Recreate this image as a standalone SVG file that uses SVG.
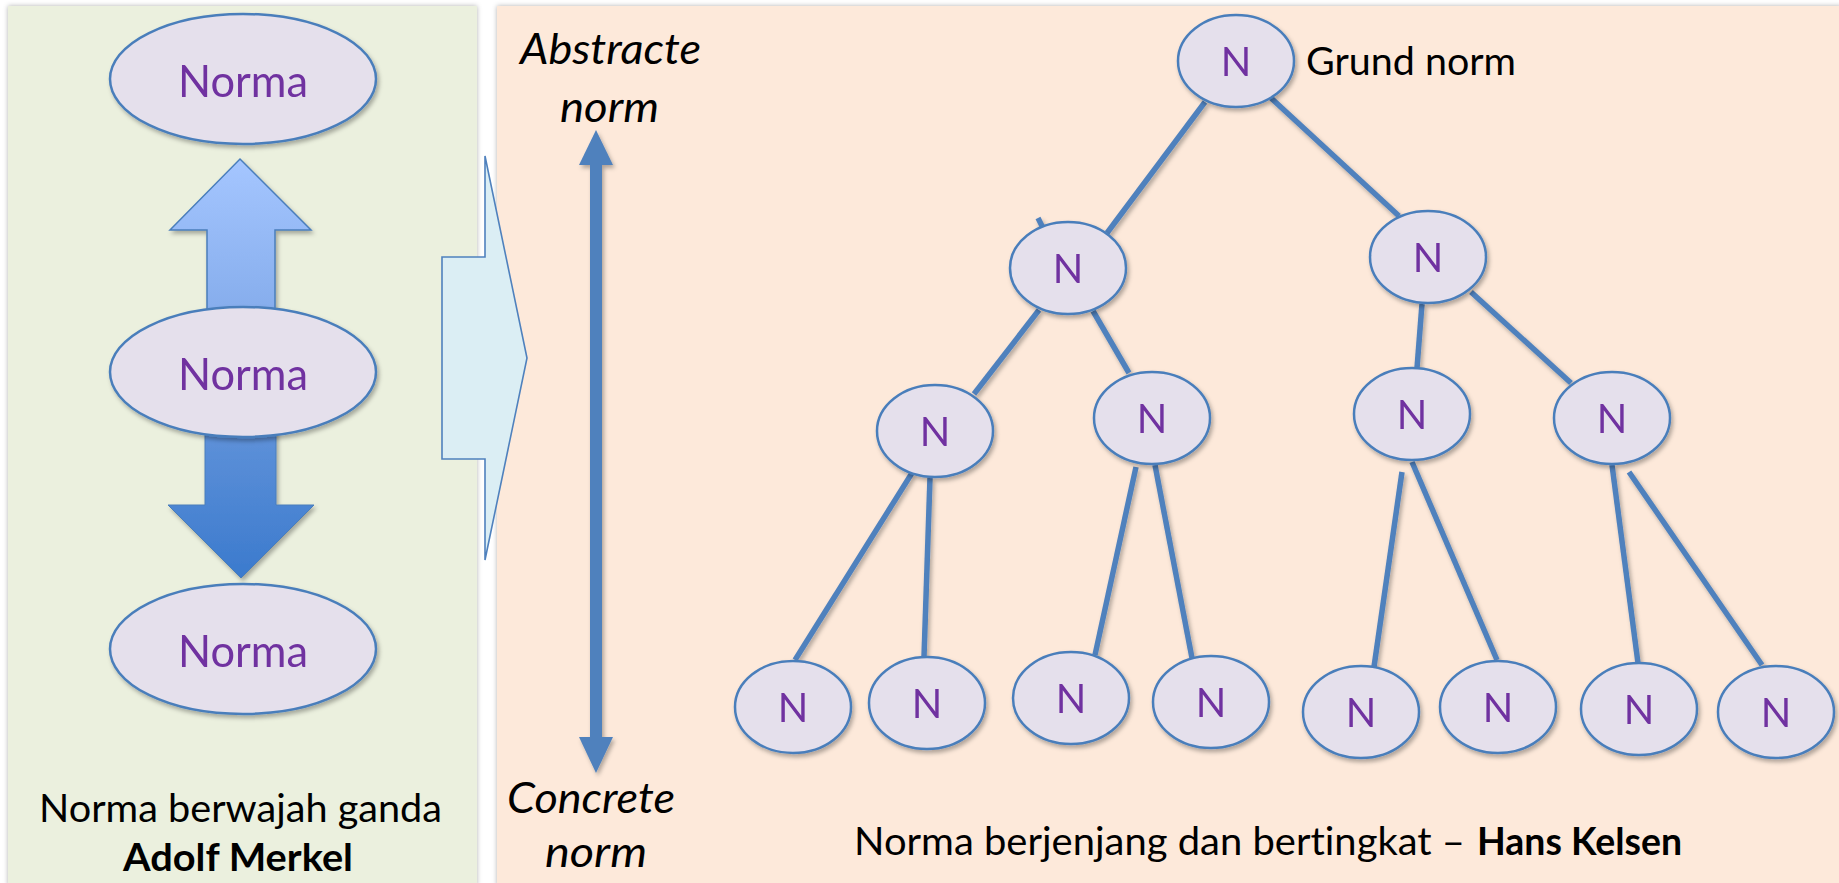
<svg xmlns="http://www.w3.org/2000/svg" width="1839" height="883" viewBox="0 0 1839 883">
<style>
.t{font-family:Lato,"Open Sans","Liberation Sans",sans-serif;fill:#000;font-variant-ligatures:none}
.it{font-style:italic}
.b{font-weight:bold}
.node ellipse{fill:#e5e0ec;stroke:#4a7ebb;stroke-width:2.5}
.nt{font-family:Lato,"Open Sans","Liberation Sans",sans-serif;fill:#7030a0;text-anchor:middle}
.ln{stroke:#4f81bd;stroke-width:5.5;fill:none}
</style>
<defs>
<filter id="sh" x="-20%" y="-20%" width="140%" height="140%">
<feDropShadow dx="2" dy="3" stdDeviation="2" flood-color="#000" flood-opacity="0.3"/>
</filter>
<filter id="psh" x="-5%" y="-5%" width="110%" height="110%">
<feDropShadow dx="0" dy="0" stdDeviation="2.5" flood-color="#000" flood-opacity="0.3"/>
</filter>
<linearGradient id="gup" x1="0" y1="0" x2="0" y2="1">
<stop offset="0" stop-color="#a5c6ff"/>
<stop offset="1" stop-color="#82aaea"/>
</linearGradient>
<linearGradient id="gdn" x1="0" y1="0" x2="0" y2="1">
<stop offset="0" stop-color="#6193da"/>
<stop offset="1" stop-color="#3b7acd"/>
</linearGradient>
</defs>

<g id="panels">
<rect id="left-panel" x="8" y="6" width="469" height="880" fill="#ebf0de" filter="url(#psh)"/>
<rect id="right-panel" x="497" y="6" width="1345" height="880" fill="#fde9da" filter="url(#psh)"/>
</g>

<g id="merkel-arrows" filter="url(#sh)">
<polygon id="up-arrow" points="240,159 311,230 275,230 275,330 207,330 207,230 170,230" fill="url(#gup)" stroke="#4a7ebb" stroke-width="1.5"/>
<polygon id="down-arrow" points="205,420 276,420 276,505 314,505 241,578 168,505 205,505" fill="url(#gdn)" stroke="#4a7ebb" stroke-width="1"/>
</g>

<g id="merkel-top" class="node" filter="url(#sh)">
<ellipse cx="243" cy="79" rx="133" ry="65"/>
<text class="nt" x="243" y="97" font-size="45" textLength="130" lengthAdjust="spacingAndGlyphs">Norma</text>
</g>
<g id="merkel-mid" class="node" filter="url(#sh)">
<ellipse cx="243" cy="372" rx="133" ry="65"/>
<text class="nt" x="243" y="390" font-size="45" textLength="130" lengthAdjust="spacingAndGlyphs">Norma</text>
</g>
<g id="merkel-bot" class="node" filter="url(#sh)">
<ellipse cx="243" cy="649" rx="133" ry="65"/>
<text class="nt" x="243" y="667" font-size="45" textLength="130" lengthAdjust="spacingAndGlyphs">Norma</text>
</g>

<g id="merkel-caption">
<text class="t" x="39" y="822" font-size="38" textLength="403" lengthAdjust="spacingAndGlyphs">Norma berwajah ganda</text>
<text class="t b" x="123" y="871" font-size="38" textLength="230" lengthAdjust="spacingAndGlyphs">Adolf Merkel</text>
</g>

<g id="chevron">
<polygon points="442,257 485,257 485,156 527,358 485,560 485,459 442,459" fill="#dbeef4" stroke="#4f81bd" stroke-width="1.6"/>
</g>

<g id="scale-arrow" fill="#4f81bd" filter="url(#sh)">
<rect x="590" y="160" width="12" height="582"/>
<polygon points="596,130 613,165 579,165"/>
<polygon points="596,773 613,737 579,737"/>
</g>

<g id="scale-labels">
<text class="t it" x="520" y="64" font-size="42" textLength="181" lengthAdjust="spacingAndGlyphs">Abstracte</text>
<text class="t it" x="560" y="122" font-size="42" textLength="99" lengthAdjust="spacingAndGlyphs">norm</text>
<text class="t it" x="507" y="813" font-size="42" textLength="168" lengthAdjust="spacingAndGlyphs">Concrete</text>
<text class="t it" x="545" y="867" font-size="42" textLength="102" lengthAdjust="spacingAndGlyphs">norm</text>
</g>

<g id="connectors" class="ln" filter="url(#sh)">
<line x1="1205" y1="102" x2="1107" y2="233"/>
<line x1="1271" y1="98" x2="1399" y2="216"/>
<line x1="1038" y1="218" x2="1043" y2="228"/>
<line x1="1039" y1="310" x2="974" y2="394"/>
<line x1="1093" y1="311" x2="1129" y2="373"/>
<line x1="1422" y1="304" x2="1417" y2="368"/>
<line x1="1471" y1="292" x2="1571" y2="383"/>
<line x1="912" y1="473" x2="795" y2="660"/>
<line x1="930" y1="478" x2="924" y2="657"/>
<line x1="1136" y1="467" x2="1095" y2="655"/>
<line x1="1155" y1="465" x2="1192" y2="658"/>
<line x1="1402" y1="472" x2="1374" y2="667"/>
<line x1="1412" y1="462" x2="1497" y2="660"/>
<line x1="1612" y1="465" x2="1638" y2="663"/>
<line x1="1629" y1="472" x2="1762" y2="665"/>
</g>

<g id="n-root" class="node" filter="url(#sh)"><ellipse cx="1236" cy="61" rx="58" ry="46"/><text class="nt" x="1236" y="76" font-size="40">N</text></g>
<text id="grund-norm" class="t" x="1306" y="75" font-size="39" textLength="210" lengthAdjust="spacingAndGlyphs">Grund norm</text>

<g id="n-l1a" class="node" filter="url(#sh)"><ellipse cx="1068" cy="268" rx="58" ry="46"/><text class="nt" x="1068" y="283" font-size="40">N</text></g>
<g id="n-l1b" class="node" filter="url(#sh)"><ellipse cx="1428" cy="257" rx="58" ry="46"/><text class="nt" x="1428" y="272" font-size="40">N</text></g>

<g id="n-l2a" class="node" filter="url(#sh)"><ellipse cx="935" cy="431" rx="58" ry="46"/><text class="nt" x="935" y="446" font-size="40">N</text></g>
<g id="n-l2b" class="node" filter="url(#sh)"><ellipse cx="1152" cy="418" rx="58" ry="46"/><text class="nt" x="1152" y="433" font-size="40">N</text></g>
<g id="n-l2c" class="node" filter="url(#sh)"><ellipse cx="1412" cy="414" rx="58" ry="46"/><text class="nt" x="1412" y="429" font-size="40">N</text></g>
<g id="n-l2d" class="node" filter="url(#sh)"><ellipse cx="1612" cy="418" rx="58" ry="46"/><text class="nt" x="1612" y="433" font-size="40">N</text></g>

<g id="n-l3a" class="node" filter="url(#sh)"><ellipse cx="793" cy="707" rx="58" ry="46"/><text class="nt" x="793" y="722" font-size="40">N</text></g>
<g id="n-l3b" class="node" filter="url(#sh)"><ellipse cx="927" cy="703" rx="58" ry="46"/><text class="nt" x="927" y="718" font-size="40">N</text></g>
<g id="n-l3c" class="node" filter="url(#sh)"><ellipse cx="1071" cy="698" rx="58" ry="46"/><text class="nt" x="1071" y="713" font-size="40">N</text></g>
<g id="n-l3d" class="node" filter="url(#sh)"><ellipse cx="1211" cy="702" rx="58" ry="46"/><text class="nt" x="1211" y="717" font-size="40">N</text></g>
<g id="n-l3e" class="node" filter="url(#sh)"><ellipse cx="1361" cy="712" rx="58" ry="46"/><text class="nt" x="1361" y="727" font-size="40">N</text></g>
<g id="n-l3f" class="node" filter="url(#sh)"><ellipse cx="1498" cy="707" rx="58" ry="46"/><text class="nt" x="1498" y="722" font-size="40">N</text></g>
<g id="n-l3g" class="node" filter="url(#sh)"><ellipse cx="1639" cy="709" rx="58" ry="46"/><text class="nt" x="1639" y="724" font-size="40">N</text></g>
<g id="n-l3h" class="node" filter="url(#sh)"><ellipse cx="1776" cy="712" rx="58" ry="46"/><text class="nt" x="1776" y="727" font-size="40">N</text></g>

<g id="kelsen-caption">
<text class="t" x="854" y="855" font-size="38" textLength="611" lengthAdjust="spacingAndGlyphs">Norma berjenjang dan bertingkat –</text>
<text class="t b" x="1477" y="855" font-size="38" textLength="205" lengthAdjust="spacingAndGlyphs">Hans Kelsen</text>
</g>
</svg>
